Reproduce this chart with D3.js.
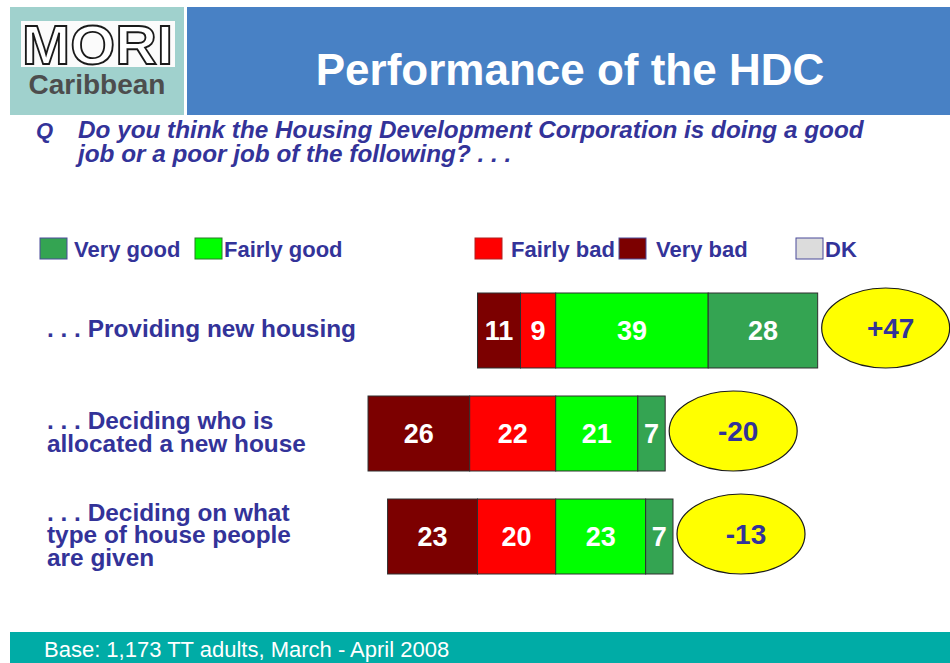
<!DOCTYPE html>
<html>
<head>
<meta charset="utf-8">
<script src="https://cdn.jsdelivr.net/npm/d3@7"></script>
<style>
	body { margin: 0; background: #fff; }
	#chart { width: 950px; height: 663px; }
	text { font-family: "Liberation Sans", Arial, sans-serif; }
</style>
</head>
<body>
<div id="chart"></div>
<script>
//**********************************
// data
//**********************************
var categories = [
	[". . . Providing new housing"],
	[". . . Deciding who is", "allocated a new house"],
	[". . . Deciding on what", "type of house people", "are given"]
];
var veryBad    = [11, 26, 23];
var fairlyBad  = [9, 22, 20];
var fairlyGood = [39, 21, 23];
var veryGood   = [28, 7, 7];
var netScores  = ["+47", "-20", "-13"];

var legendLabels = ["Very good", "Fairly good", "Fairly bad", "Very bad", "DK"];

var colors = {
	"Very good"   : "#34a452",
	"Fairly good" : "#00ff00",
	"Fairly bad"  : "#ff0000",
	"Very bad"    : "#7c0000",
	"DK"          : "#dcdcdc"
};

var text_blue = "#333399";

//**********************************
// svg
//**********************************
var width = 950, height = 663;

var svg = d3.select("#chart").append("svg")
	.attr("width", width)
	.attr("height", height)
	.style("display", "block");

// header boxes
svg.append("rect")
	.attr("x", 10).attr("y", 7)
	.attr("width", 174).attr("height", 108)
	.style("fill", "#a0d1cd");

svg.append("rect")
	.attr("x", 187).attr("y", 7)
	.attr("width", 763).attr("height", 108)
	.style("fill", "#4881c5");

// logo
svg.append("rect")
	.attr("x", 21).attr("y", 21)
	.attr("width", 154).attr("height", 46)
	.style("fill", "#fbfbfb");

svg.append("text")
	.attr("x", 22).attr("y", 64)
	.attr("textLength", 151)
	.attr("lengthAdjust", "spacingAndGlyphs")
	.style("font-size", "56px")
	.style("font-weight", "bold")
	.style("fill", "#fff")
	.style("stroke", "#1a1a1a")
	.style("stroke-width", 1.8)
	.text("MORI");

svg.append("text")
	.attr("x", 97).attr("y", 94)
	.style("text-anchor", "middle")
	.style("font-size", "28px")
	.style("font-weight", "bold")
	.style("fill", "#4d4d4d")
	.text("Caribbean");

svg.append("text")
	.attr("x", 570).attr("y", 85)
	.style("text-anchor", "middle")
	.style("font-size", "44px")
	.style("font-weight", "bold")
	.style("fill", "#fff")
	.text("Performance of the HDC");

// question
svg.append("text")
	.attr("x", 36).attr("y", 138)
	.style("font-size", "22px")
	.style("font-weight", "bold")
	.style("font-style", "italic")
	.style("fill", text_blue)
	.text("Q");

var question = ["Do you think the Housing Development Corporation is doing a good",
	"job or a poor job of the following? . . ."];

svg.selectAll(".question").data(question).enter()
	.append("text")
	.attr("class", "question")
	.attr("x", 78)
	.attr("y", function(d, i){ return 138 + i * 24; })
	.style("font-size", "24.3px")
	.style("font-weight", "bold")
	.style("font-style", "italic")
	.style("fill", text_blue)
	.text(function(d){ return d; });

// legend
var legend_x = [40, 195, 475, 619, 796];
var legend_tx = [74, 224, 511, 656, 825];

var legend = svg.selectAll(".legend").data(legendLabels).enter()
	.append("g")
	.attr("class", "legend");

legend.append("rect")
	.attr("x", function(d, i){ return legend_x[i]; })
	.attr("y", 238)
	.attr("width", 27)
	.attr("height", 21)
	.style("fill", function(d){ return colors[d]; })
	.style("stroke", function(d){ return d == "Fairly good" ? "#2a7a2a" : (d == "Fairly bad" ? "#b02020" : "#4a4a9a"); })
	.style("stroke-width", 1);

legend.append("text")
	.attr("x", function(d, i){ return legend_tx[i]; })
	.attr("y", 257)
	.style("font-size", "22px")
	.style("font-weight", "bold")
	.style("fill", text_blue)
	.text(function(d){ return d; });

//**********************************
// bars
//**********************************
var scaleX = d3.scaleLinear().domain([-60, 80]).range([321.1, 868.5]);
var scaleY = d3.scaleBand().domain(d3.range(categories.length)).range([293, 574]).paddingInner(0.272);

var rows = categories.map(function(c, i){
	var segs = [];
	var left = -(veryBad[i] + fairlyBad[i]);
	var parts = [
		{ key : "Very bad", value : veryBad[i] },
		{ key : "Fairly bad", value : fairlyBad[i] },
		{ key : "Fairly good", value : fairlyGood[i] },
		{ key : "Very good", value : veryGood[i] }
	];
	var pos = left;
	parts.forEach(function(p){
		segs.push({ key : p.key, value : p.value, x0 : pos, x1 : pos + p.value });
		pos += p.value;
	});
	return { index : i, label : c, segs : segs, end : pos, net : netScores[i] };
});

var row_g = svg.selectAll(".row").data(rows).enter()
	.append("g")
	.attr("class", "row")
	.attr("transform", function(d){ return "translate(0," + scaleY(d.index) + ")"; });

var bw = scaleY.bandwidth();

row_g.selectAll(".seg").data(function(d){ return d.segs; }).enter()
	.append("rect")
	.attr("class", "seg")
	.attr("x", function(d){ return scaleX(d.x0); })
	.attr("y", 0)
	.attr("width", function(d){ return scaleX(d.x1) - scaleX(d.x0); })
	.attr("height", bw)
	.style("fill", function(d){ return colors[d.key]; })
	.style("stroke", "#2e2e2e")
	.style("stroke-width", 1);

row_g.selectAll(".seg_label").data(function(d){ return d.segs; }).enter()
	.append("text")
	.attr("class", "seg_label")
	.attr("x", function(d){ return (scaleX(d.x0) + scaleX(d.x1)) * 0.5; })
	.attr("y", bw * 0.5 + 10)
	.style("text-anchor", "middle")
	.style("font-size", "27px")
	.style("font-weight", "bold")
	.style("fill", "#fff")
	.text(function(d){ return d.value; });

// net score ellipses
row_g.append("ellipse")
	.attr("cx", function(d){ return scaleX(d.end) + 68; })
	.attr("cy", bw * 0.5 - 2.5)
	.attr("rx", 64)
	.attr("ry", 40)
	.style("fill", "#ffff00")
	.style("stroke", "#1a1a1a")
	.style("stroke-width", 1.2);

row_g.append("text")
	.attr("x", function(d){ return scaleX(d.end) + 73; })
	.attr("y", bw * 0.5 + 7.5)
	.style("text-anchor", "middle")
	.style("font-size", "28px")
	.style("font-weight", "bold")
	.style("fill", text_blue)
	.text(function(d){ return d.net; });

// row labels
row_g.each(function(d){
	var n = d.label.length;
	var first = bw * 0.5 + 7 - (n - 1) * 22.5 * 0.5;
	d3.select(this).selectAll(".row_label").data(d.label).enter()
		.append("text")
		.attr("class", "row_label")
		.attr("x", 47)
		.attr("y", function(t, j){ return first + j * 22.5; })
		.style("font-size", "24.4px")
		.style("font-weight", "bold")
		.style("fill", text_blue)
		.text(function(t){ return t; });
});

//**********************************
// footer
//**********************************
svg.append("rect")
	.attr("x", 10).attr("y", 632)
	.attr("width", 940).attr("height", 31)
	.style("fill", "#00aca6");

svg.append("text")
	.attr("x", 44).attr("y", 657)
	.style("font-size", "22px")
	.style("fill", "#fff")
	.text("Base: 1,173 TT adults, March - April 2008");
</script>
</body>
</html>
